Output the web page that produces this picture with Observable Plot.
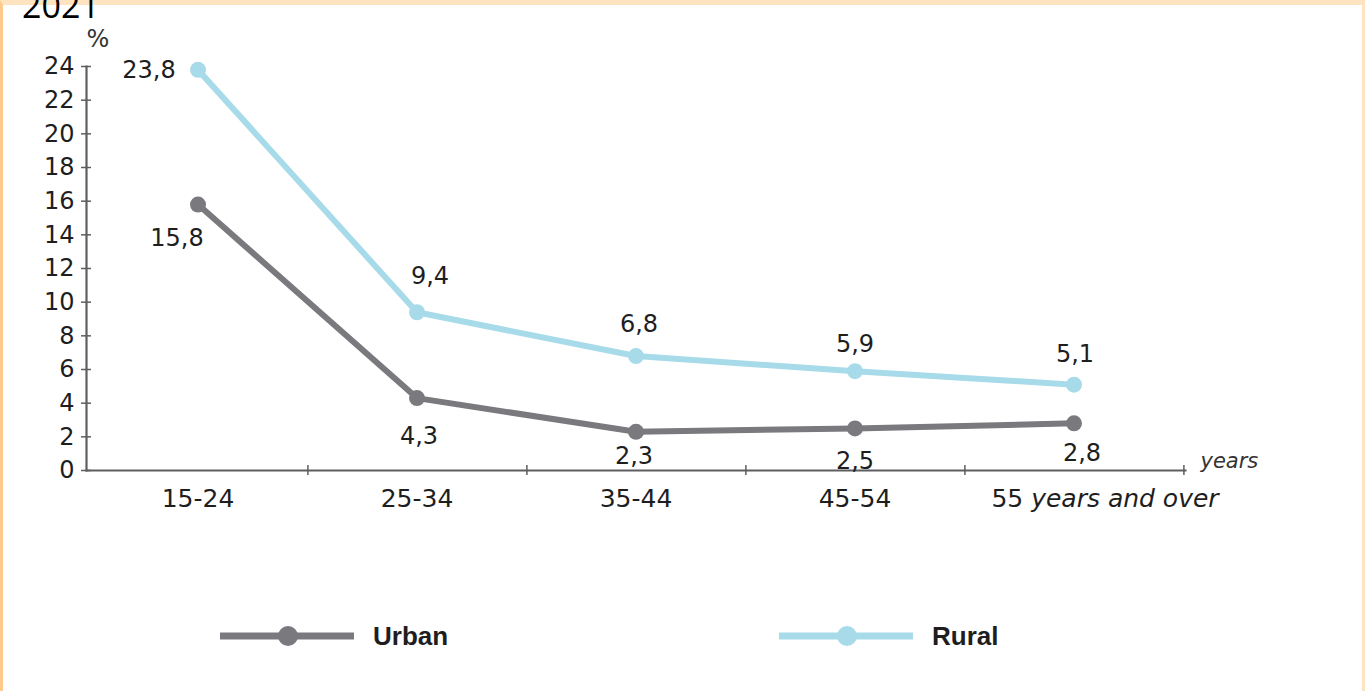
<!DOCTYPE html>
<html>
<head>
<meta charset="utf-8">
<script src="https://cdn.jsdelivr.net/npm/d3@7"></script>
<script src="https://cdn.jsdelivr.net/npm/@observablehq/plot@0.6"></script>
<style>
  html, body { margin: 0; padding: 0; background: #fff; }
  body { width: 1365px; height: 691px; position: relative; overflow: hidden; }
  #frame {
    position: absolute; left: 0; top: 0; width: 1365px; height: 691px; box-sizing: border-box;
    border-top: 5px solid #fde3bf; border-left: 3px solid #fcca8a; border-right: 3px solid #fde3bf;
    pointer-events: none;
  }
  #year {
    position: absolute; left: 22px; top: -12px; font: 34px/34px "Open Sans", sans-serif; color: #000;
  }
  #chart { position: absolute; left: 0; top: 0; }
  .legend-item { position: absolute; top: 624px; height: 24px; display: flex; align-items: center; }
  .legend-item span { font: bold 26px "Liberation Sans", Arial, sans-serif; color: #1e1e1e; margin-left: 18px; }
</style>
</head>
<body>
<div id="frame"></div>
<div id="year">2021</div>
<div id="chart"></div>
<script>
// Unemployment rate by age group, urban vs rural (%)
const ageGroups = ["15-24", "25-34", "35-44", "45-54", "55 years and over"];
const urban = [15.8, 4.3, 2.3, 2.5, 2.8];
const rural = [23.8, 9.4, 6.8, 5.9, 5.1];
const yTicks = [0, 2, 4, 6, 8, 10, 12, 14, 16, 18, 20, 22, 24];
const seriesNames = ["Urban", "Rural"];
const seriesColors = ["#7a7a7e", "#a8dbe9"];

const rows = ageGroups.flatMap((group, i) => [
  {group, area: "Urban", value: urban[i], i},
  {group, area: "Rural", value: rural[i], i}
]);

const fmt = v => v.toFixed(1).replace(".", ",");

// hand-placed value labels: [dx, dy] in pixels from each point
const labelNudge = {
  Rural: [[-49, 0], [13, -36], [3, -32], [0, -27], [1, -30]],
  Urban: [[-21, 34], [2, 38], [-2, 25], [0, 33], [8, 30]]
};

const W = 1365, H = 530, mL = 86, mR = 180, mT = 66, mB = 60;
const bw = (W - mL - mR) / ageGroups.length;
const axisColor = "#5e5e60";
const ink = "#1e1e1e";

const valueLabels = rows.map(r => Plot.text([r], {
  x: "group", y: "value", text: d => fmt(d.value),
  dx: labelNudge[r.area][r.i][0], dy: labelNudge[r.area][r.i][1],
  fontSize: 24, fill: ink
}));

const chart = Plot.plot({
  width: W, height: H,
  marginLeft: mL, marginRight: mR, marginTop: mT, marginBottom: mB,
  style: {fontFamily: "DejaVu Sans", color: ink, background: "transparent", overflow: "visible"},
  x: {type: "band", domain: ageGroups, padding: 0, axis: null, label: null},
  y: {domain: [0, 24], axis: null, label: null},
  color: {domain: seriesNames, range: seriesColors},
  marks: [
    Plot.frame({anchor: "left", stroke: axisColor, strokeWidth: 2.2}),
    Plot.frame({anchor: "bottom", stroke: axisColor, strokeWidth: 2.2}),
    Plot.axisY({ticks: yTicks, tickSize: 10, tickPadding: 7, dx: 5, fontSize: 24, label: null,
      stroke: axisColor, strokeWidth: 1.5, fill: ink}),
    // ticks on the band boundaries along the x axis
    Plot.axisX({ticks: ageGroups, tickSize: 10, dy: -5, dx: bw / 2, tickFormat: () => "", label: null,
      stroke: axisColor, strokeWidth: 1.5}),
    Plot.axisX({ticks: ageGroups, tickSize: 0, tickPadding: 19, fontSize: 25, fill: ink, label: null}),
    Plot.line(rows, {x: "group", y: "value", z: "area", stroke: "area", strokeWidth: 6}),
    Plot.dot(rows, {x: "group", y: "value", fill: "area", r: 8}),
    ...valueLabels,
    Plot.text(["%"], {frameAnchor: "top-left", text: d => d, textAnchor: "start", dx: 0, dy: -37,
      fontSize: 24, fill: "#333"}),
    Plot.text(["years"], {frameAnchor: "bottom-right", text: d => d, textAnchor: "start", dx: 15, dy: -3,
      fontSize: 21, fontStyle: "italic", fill: "#333"})
  ]
});

// set "years and over" of the last age group in italics
d3.select(chart).selectAll("text").each(function () {
  if (this.textContent === ageGroups[4]) {
    const t = d3.select(this);
    t.text("");
    t.append("tspan").text("55 ");
    t.append("tspan").attr("font-style", "italic").text("years and over");
    t.attr("dx", 31);
  }
});

document.getElementById("chart").appendChild(chart);

// legend
const legendLeft = [219, 778];
seriesNames.forEach((name, k) => {
  const item = document.createElement("div");
  item.className = "legend-item";
  item.style.left = legendLeft[k] + "px";
  const sw = d3.create("svg").attr("width", 136).attr("height", 24);
  sw.append("line").attr("x1", 1).attr("x2", 135).attr("y1", 12).attr("y2", 12)
    .attr("stroke", seriesColors[k]).attr("stroke-width", 7);
  sw.append("circle").attr("cx", 69).attr("cy", 12).attr("r", 10).attr("fill", seriesColors[k]);
  item.appendChild(sw.node());
  const label = document.createElement("span");
  label.textContent = name;
  item.appendChild(label);
  document.body.appendChild(item);
});
</script>
</body>
</html>
